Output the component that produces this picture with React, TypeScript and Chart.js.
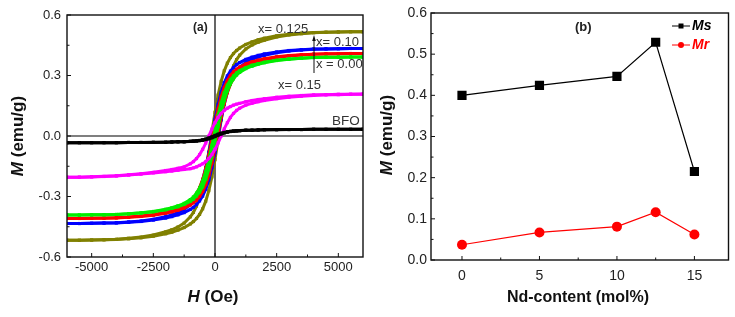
import React, { useEffect, useRef } from 'react';
import { Chart, registerables } from 'chart.js';

Chart.register(...registerables);

const FONT = '"Liberation Sans", Arial, Helvetica, sans-serif';

// ---------- Panel (a): M–H hysteresis loops ----------
const FIELD_OE = [-6000, -5500, -5000, -4500, -4000, -3500, -3000, -2500, -2000, -1750, -1500, -1250, -1000, -875, -750, -625, -500, -375, -250, -125, 0, 125, 250, 375, 500, 625, 750, 875, 1000, 1250, 1500, 1750, 2000, 2500, 3000, 3500, 4000, 4500, 5000, 5500, 6000];

const BFO_DOWN = [-0.033, -0.033, -0.033, -0.033, -0.033, -0.032, -0.032, -0.031, -0.031, -0.030, -0.029, -0.028, -0.026, -0.025, -0.024, -0.022, -0.019, -0.015, -0.010, -0.004, 0.003, 0.009, 0.014, 0.018, 0.021, 0.023, 0.025, 0.026, 0.027, 0.029, 0.029, 0.030, 0.031, 0.032, 0.032, 0.032, 0.033, 0.033, 0.033, 0.033, 0.033];
const BFO_UP = [-0.033, -0.033, -0.033, -0.033, -0.033, -0.032, -0.032, -0.032, -0.031, -0.030, -0.029, -0.029, -0.027, -0.026, -0.025, -0.023, -0.021, -0.018, -0.014, -0.009, -0.003, 0.004, 0.010, 0.015, 0.019, 0.022, 0.024, 0.025, 0.026, 0.028, 0.029, 0.030, 0.031, 0.031, 0.032, 0.032, 0.033, 0.033, 0.033, 0.033, 0.033];

const X015_DOWN = [-0.205, -0.204, -0.202, -0.200, -0.197, -0.192, -0.187, -0.180, -0.171, -0.166, -0.160, -0.153, -0.138, -0.127, -0.112, -0.092, -0.066, -0.035, 0.000, 0.035, 0.066, 0.092, 0.112, 0.127, 0.138, 0.146, 0.153, 0.158, 0.162, 0.170, 0.176, 0.181, 0.185, 0.192, 0.197, 0.201, 0.204, 0.205, 0.207, 0.207, 0.208];
const X015_UP = [-0.205, -0.204, -0.203, -0.201, -0.198, -0.194, -0.189, -0.183, -0.177, -0.174, -0.170, -0.166, -0.162, -0.158, -0.153, -0.146, -0.138, -0.127, -0.112, -0.092, -0.066, -0.035, 0.000, 0.035, 0.066, 0.092, 0.112, 0.127, 0.138, 0.153, 0.162, 0.170, 0.176, 0.185, 0.192, 0.197, 0.201, 0.204, 0.205, 0.207, 0.207];

const X000_DOWN = [-0.392, -0.392, -0.391, -0.390, -0.389, -0.386, -0.381, -0.374, -0.363, -0.356, -0.346, -0.334, -0.315, -0.302, -0.283, -0.258, -0.223, -0.176, -0.116, -0.045, 0.030, 0.103, 0.165, 0.215, 0.252, 0.279, 0.298, 0.313, 0.324, 0.339, 0.351, 0.359, 0.366, 0.376, 0.382, 0.386, 0.389, 0.391, 0.391, 0.392, 0.392];
const X000_UP = [-0.392, -0.392, -0.391, -0.391, -0.389, -0.386, -0.382, -0.376, -0.366, -0.359, -0.351, -0.339, -0.324, -0.313, -0.298, -0.279, -0.252, -0.215, -0.165, -0.103, -0.030, 0.045, 0.116, 0.176, 0.223, 0.258, 0.283, 0.302, 0.315, 0.334, 0.346, 0.356, 0.363, 0.374, 0.381, 0.386, 0.389, 0.390, 0.391, 0.392, 0.392];

const X005_DOWN = [-0.409, -0.409, -0.408, -0.407, -0.405, -0.402, -0.397, -0.389, -0.378, -0.370, -0.359, -0.345, -0.324, -0.308, -0.286, -0.256, -0.215, -0.160, -0.093, -0.016, 0.063, 0.135, 0.195, 0.241, 0.275, 0.300, 0.318, 0.331, 0.342, 0.357, 0.368, 0.376, 0.383, 0.393, 0.399, 0.403, 0.406, 0.408, 0.408, 0.409, 0.409];
const X005_UP = [-0.409, -0.409, -0.408, -0.408, -0.406, -0.403, -0.399, -0.393, -0.383, -0.376, -0.368, -0.357, -0.342, -0.331, -0.318, -0.300, -0.275, -0.241, -0.195, -0.135, -0.063, 0.016, 0.093, 0.160, 0.215, 0.256, 0.286, 0.308, 0.324, 0.345, 0.359, 0.370, 0.378, 0.389, 0.397, 0.402, 0.405, 0.407, 0.408, 0.409, 0.409];

const X010_DOWN = [-0.434, -0.434, -0.433, -0.432, -0.430, -0.426, -0.421, -0.413, -0.400, -0.391, -0.380, -0.364, -0.340, -0.322, -0.298, -0.264, -0.218, -0.157, -0.083, 0.000, 0.083, 0.157, 0.218, 0.264, 0.298, 0.322, 0.340, 0.354, 0.364, 0.380, 0.391, 0.400, 0.407, 0.417, 0.424, 0.428, 0.431, 0.432, 0.433, 0.434, 0.434];
const X010_UP = [-0.434, -0.434, -0.433, -0.432, -0.431, -0.428, -0.424, -0.417, -0.407, -0.400, -0.391, -0.380, -0.364, -0.354, -0.340, -0.322, -0.298, -0.264, -0.218, -0.157, -0.083, 0.000, 0.083, 0.157, 0.218, 0.264, 0.298, 0.322, 0.340, 0.364, 0.380, 0.391, 0.400, 0.413, 0.421, 0.426, 0.430, 0.432, 0.433, 0.434, 0.434];

const X0125_DOWN = [-0.517, -0.517, -0.516, -0.514, -0.512, -0.507, -0.501, -0.491, -0.475, -0.465, -0.451, -0.432, -0.401, -0.379, -0.348, -0.304, -0.246, -0.170, -0.079, 0.020, 0.117, 0.203, 0.271, 0.323, 0.361, 0.389, 0.409, 0.424, 0.436, 0.454, 0.467, 0.477, 0.485, 0.497, 0.505, 0.510, 0.513, 0.515, 0.516, 0.517, 0.517];
const X0125_UP = [-0.517, -0.517, -0.516, -0.515, -0.513, -0.510, -0.505, -0.497, -0.485, -0.477, -0.467, -0.454, -0.436, -0.424, -0.409, -0.389, -0.361, -0.323, -0.271, -0.203, -0.117, -0.020, 0.079, 0.170, 0.246, 0.304, 0.348, 0.379, 0.401, 0.432, 0.451, 0.465, 0.475, 0.491, 0.501, 0.507, 0.512, 0.514, 0.516, 0.517, 0.517];

const H_TICKS = [-5000, -2500, 0, 2500, 5000];
const H_MINOR = [-3750, -1250, 1250, 3750];
const MA_TICKS = [-0.6, -0.3, 0, 0.3, 0.6];
const MA_MINOR = [-0.45, -0.15, 0.15, 0.45];

// ---------- Panel (b): Ms, Mr vs Nd content ----------
const ND_CONTENT = [0, 5, 10, 12.5, 15];
const MS_VALUES = [0.400, 0.424, 0.446, 0.529, 0.215];
const MR_VALUES = [0.037, 0.067, 0.081, 0.116, 0.062];
const ND_TICKS = [0, 5, 10, 15];
const ND_MINOR = [2.5, 7.5, 12.5];
const MB_TICKS = [0, 0.1, 0.2, 0.3, 0.4, 0.5, 0.6];
const MB_MINOR = [0.05, 0.15, 0.25, 0.35, 0.45, 0.55];

const toPts = (xs: number[], ys: number[]) => xs.map((x, i) => ({ x, y: ys[i] }));

function framePlugin(xMaj: number[], xMin: number[], yMaj: number[], yMin: number[], zeroLines: boolean) {
  return {
    id: 'frameTicks',
    beforeDatasetsDraw(chart: any) {
      if (!zeroLines) return;
      const { ctx, chartArea: a, scales } = chart;
      ctx.save();
      ctx.strokeStyle = '#000';
      ctx.lineWidth = 1.2;
      const x0 = scales.x.getPixelForValue(0);
      const y0 = scales.y.getPixelForValue(0);
      ctx.beginPath();
      ctx.moveTo(x0, a.top);
      ctx.lineTo(x0, a.bottom);
      ctx.moveTo(a.left, y0);
      ctx.lineTo(a.right, y0);
      ctx.stroke();
      ctx.restore();
    },
    afterDraw(chart: any) {
      const { ctx, chartArea: a, scales } = chart;
      ctx.save();
      ctx.strokeStyle = '#111';
      ctx.lineWidth = 1.4;
      ctx.strokeRect(a.left, a.top, a.right - a.left, a.bottom - a.top);
      ctx.lineWidth = 1;
      ctx.beginPath();
      xMaj.forEach((v) => { const p = scales.x.getPixelForValue(v); ctx.moveTo(p, a.bottom); ctx.lineTo(p, a.bottom - 4); });
      xMin.forEach((v) => { const p = scales.x.getPixelForValue(v); ctx.moveTo(p, a.bottom); ctx.lineTo(p, a.bottom - 2.5); });
      yMaj.forEach((v) => { const p = scales.y.getPixelForValue(v); ctx.moveTo(a.left, p); ctx.lineTo(a.left + 4, p); });
      yMin.forEach((v) => { const p = scales.y.getPixelForValue(v); ctx.moveTo(a.left, p); ctx.lineTo(a.left + 2.5, p); });
      ctx.stroke();
      ctx.restore();
    },
  };
}

function drawMixed(ctx: CanvasRenderingContext2D, parts: { t: string; f: string; c?: string }[], cx: number, cy: number, rot: number) {
  ctx.save();
  ctx.translate(cx, cy);
  ctx.rotate(rot);
  let total = 0;
  parts.forEach((p) => { ctx.font = p.f; total += ctx.measureText(p.t).width; });
  let x = -total / 2;
  ctx.textBaseline = 'middle';
  ctx.textAlign = 'left';
  parts.forEach((p) => {
    ctx.font = p.f;
    ctx.fillStyle = p.c || '#111';
    ctx.fillText(p.t, x, 0);
    x += ctx.measureText(p.t).width;
  });
  ctx.restore();
}

const textPluginA = {
  id: 'textA',
  afterDraw(chart: any) {
    const ctx = chart.ctx as CanvasRenderingContext2D;
    drawMixed(ctx, [{ t: 'M', f: `italic bold 17px ${FONT}` }, { t: ' (emu/g)', f: `bold 17px ${FONT}` }], 18, 136, -Math.PI / 2);
    drawMixed(ctx, [{ t: 'H', f: `italic bold 17px ${FONT}` }, { t: ' (Oe)', f: `bold 17px ${FONT}` }], 213, 297, 0);
    ctx.save();
    ctx.textBaseline = 'middle';
    ctx.textAlign = 'left';
    ctx.fillStyle = '#222';
    ctx.font = `bold 12px ${FONT}`;
    ctx.fillText('(a)', 193, 28);
    ctx.fillStyle = '#333';
    ctx.font = `13px ${FONT}`;
    ctx.fillText('x= 0.125', 258, 29);
    ctx.fillText('x= 0.10', 316, 42);
    ctx.fillText('x = 0.00', 316, 64);
    ctx.fillText('x= 0.15', 278, 85);
    ctx.font = `13.5px ${FONT}`;
    ctx.fillText('BFO', 332, 121);
    ctx.strokeStyle = '#111';
    ctx.lineWidth = 1;
    ctx.beginPath();
    ctx.moveTo(314, 73);
    ctx.lineTo(314, 39);
    ctx.stroke();
    ctx.fillStyle = '#111';
    ctx.beginPath();
    ctx.moveTo(314, 35);
    ctx.lineTo(312.2, 41);
    ctx.lineTo(315.8, 41);
    ctx.closePath();
    ctx.fill();
    ctx.restore();
  },
};

const textPluginB = {
  id: 'textB',
  afterDraw(chart: any) {
    const ctx = chart.ctx as CanvasRenderingContext2D;
    drawMixed(ctx, [{ t: 'M', f: `italic bold 17px ${FONT}` }, { t: ' (emu/g)', f: `bold 17px ${FONT}` }], 17, 135, -Math.PI / 2);
    drawMixed(ctx, [{ t: 'Nd-content (mol%)', f: `bold 16px ${FONT}` }], 208, 298, 0);
    ctx.save();
    ctx.textBaseline = 'middle';
    ctx.textAlign = 'left';
    ctx.fillStyle = '#222';
    ctx.font = `bold 13px ${FONT}`;
    ctx.fillText('(b)', 205, 27);
    // legend
    ctx.lineWidth = 1;
    ctx.strokeStyle = '#000';
    ctx.beginPath();
    ctx.moveTo(302, 26);
    ctx.lineTo(320, 26);
    ctx.stroke();
    ctx.fillStyle = '#000';
    ctx.fillRect(308.5, 23.5, 5, 5);
    ctx.font = `italic bold 14px ${FONT}`;
    ctx.fillText('Ms', 322, 26);
    ctx.strokeStyle = '#ff0000';
    ctx.beginPath();
    ctx.moveTo(302, 45);
    ctx.lineTo(320, 45);
    ctx.stroke();
    ctx.fillStyle = '#ff0000';
    ctx.beginPath();
    ctx.arc(311, 45, 3, 0, Math.PI * 2);
    ctx.fill();
    ctx.fillText('Mr', 322, 45);
    ctx.restore();
  },
};

function loopSets() {
  const spec = [
    { c: '#000000', d: BFO_DOWN, u: BFO_UP },
    { c: '#ff00ff', d: X015_DOWN, u: X015_UP },
    { c: '#00ee00', d: X000_DOWN, u: X000_UP },
    { c: '#ff0000', d: X005_DOWN, u: X005_UP },
    { c: '#0000ff', d: X010_DOWN, u: X010_UP },
    { c: '#808000', d: X0125_DOWN, u: X0125_UP },
  ];
  const out: any[] = [];
  spec.forEach((s) => {
    [s.d, s.u].forEach((arr) => {
      out.push({
        data: toPts(FIELD_OE, arr),
        borderColor: s.c,
        backgroundColor: s.c,
        borderWidth: 3,
        pointRadius: 2.2,
        pointStyle: 'rect',
        pointBorderWidth: 0,
        showLine: true,
        tension: 0,
      });
    });
  });
  return out;
}

export default function App() {
  const refA = useRef<HTMLCanvasElement>(null);
  const refB = useRef<HTMLCanvasElement>(null);

  useEffect(() => {
    const tickFont = (size: number) => ({ family: FONT, size });
    const chartA = new Chart(refA.current!, {
      type: 'line',
      data: { datasets: loopSets() },
      options: {
        responsive: false,
        animation: false,
        layout: { padding: { top: 15, right: 7, left: 0, bottom: 0 } },
        plugins: { legend: { display: false }, tooltip: { enabled: false } },
        scales: {
          x: {
            type: 'linear',
            min: -6000,
            max: 6000,
            afterBuildTicks: (s: any) => { s.ticks = H_TICKS.map((v) => ({ value: v })); },
            afterFit: (s: any) => { s.height = 60; },
            grid: { display: false, drawTicks: false },
            border: { display: false },
            ticks: { font: tickFont(13), color: '#222', padding: 3, maxRotation: 0, autoSkip: false, callback: (v: any) => String(v) },
          },
          y: {
            type: 'linear',
            min: -0.6,
            max: 0.6,
            afterBuildTicks: (s: any) => { s.ticks = MA_TICKS.map((v) => ({ value: v })); },
            afterFit: (s: any) => { s.width = 67; },
            grid: { display: false, drawTicks: false },
            border: { display: false },
            ticks: { font: tickFont(13), color: '#222', padding: 6, autoSkip: false, callback: (v: any) => Number(v).toFixed(1) },
          },
        },
      } as any,
      plugins: [framePlugin(H_TICKS, H_MINOR, MA_TICKS, MA_MINOR, true), textPluginA],
    });

    const chartB = new Chart(refB.current!, {
      type: 'line',
      data: {
        datasets: [
          {
            data: toPts(ND_CONTENT, MS_VALUES),
            borderColor: '#000',
            backgroundColor: '#000',
            borderWidth: 1.2,
            pointStyle: 'rect',
            pointRadius: 6.5,
            pointBorderWidth: 0,
            tension: 0,
          },
          {
            data: toPts(ND_CONTENT, MR_VALUES),
            borderColor: '#ff0000',
            backgroundColor: '#ff0000',
            borderWidth: 1.2,
            pointStyle: 'circle',
            pointRadius: 5,
            pointBorderWidth: 0,
            tension: 0,
          },
        ],
      },
      options: {
        responsive: false,
        animation: false,
        layout: { padding: { top: 13, right: 3, left: 0, bottom: 0 } },
        plugins: { legend: { display: false }, tooltip: { enabled: false } },
        scales: {
          x: {
            type: 'linear',
            min: -2,
            max: 17.2,
            afterBuildTicks: (s: any) => { s.ticks = ND_TICKS.map((v) => ({ value: v })); },
            afterFit: (s: any) => { s.height = 57; },
            grid: { display: false, drawTicks: false },
            border: { display: false },
            ticks: { font: tickFont(14), color: '#222', padding: 8, maxRotation: 0, autoSkip: false, callback: (v: any) => String(v) },
          },
          y: {
            type: 'linear',
            min: 0,
            max: 0.6,
            afterBuildTicks: (s: any) => { s.ticks = MB_TICKS.map((v) => ({ value: v })); },
            afterFit: (s: any) => { s.width = 61; },
            grid: { display: false, drawTicks: false },
            border: { display: false },
            ticks: { font: tickFont(14), color: '#222', padding: 4, autoSkip: false, callback: (v: any) => Number(v).toFixed(1) },
          },
        },
      } as any,
      plugins: [framePlugin(ND_TICKS, ND_MINOR, MB_TICKS, MB_MINOR, false), textPluginB],
    });

    return () => {
      chartA.destroy();
      chartB.destroy();
    };
  }, []);

  return (
    <div style={{ position: 'fixed', left: 0, top: 0, width: 735, height: 317, background: '#fff' }}>
      <canvas ref={refA} width={370} height={317} style={{ position: 'absolute', left: 0, top: 0, width: 370, height: 317 }} />
      <canvas ref={refB} width={365} height={317} style={{ position: 'absolute', left: 370, top: 0, width: 365, height: 317 }} />
    </div>
  );
}
